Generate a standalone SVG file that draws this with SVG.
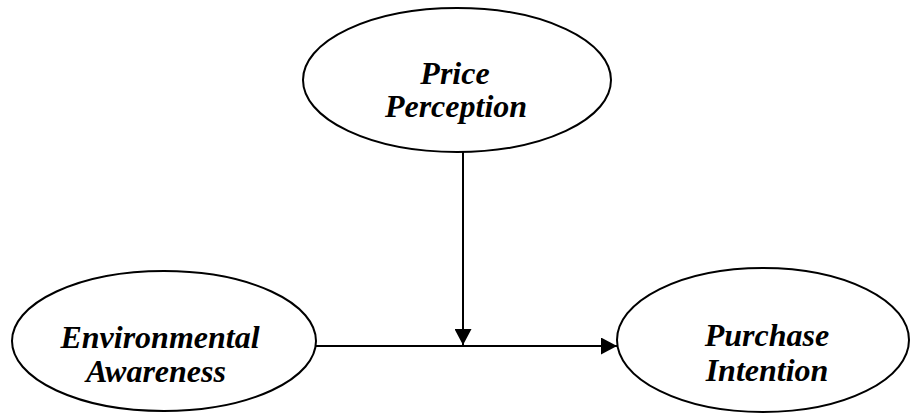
<svg xmlns="http://www.w3.org/2000/svg" width="910" height="414" viewBox="0 0 910 414">
<defs>
<style>
.node ellipse{fill:#fff;stroke:#000;stroke-width:2}
.node text{font-family:"Liberation Serif","Times New Roman",serif;font-weight:bold;font-style:italic;font-size:32px;text-anchor:middle;fill:#000}
.conn line{stroke:#000;stroke-width:2}
</style>
<marker id="ah" markerWidth="17" markerHeight="17" refX="16" refY="8.5" orient="auto" markerUnits="userSpaceOnUse">
<path d="M0,0 L16,8.5 L0,17 Z" fill="#000"/>
</marker>
</defs>
<rect width="910" height="414" fill="#fff"/>
<g id="connectors" class="conn">
<line x1="316" y1="346" x2="617" y2="346" marker-end="url(#ah)"/>
<line x1="463" y1="152" x2="463" y2="345" marker-end="url(#ah)"/>
</g>
<g id="price-perception" class="node">
<ellipse cx="457" cy="80" rx="154" ry="72"/>
<text x="455" y="84">Price</text>
<text x="456" y="117">Perception</text>
</g>
<g id="environmental-awareness" class="node">
<ellipse cx="164" cy="341" rx="152" ry="70"/>
<text x="160" y="348">Environmental</text>
<text x="156" y="382">Awareness</text>
</g>
<g id="purchase-intention" class="node">
<ellipse cx="763" cy="340" rx="146" ry="72"/>
<text x="767" y="346">Purchase</text>
<text x="767" y="381">Intention</text>
</g>
</svg>
